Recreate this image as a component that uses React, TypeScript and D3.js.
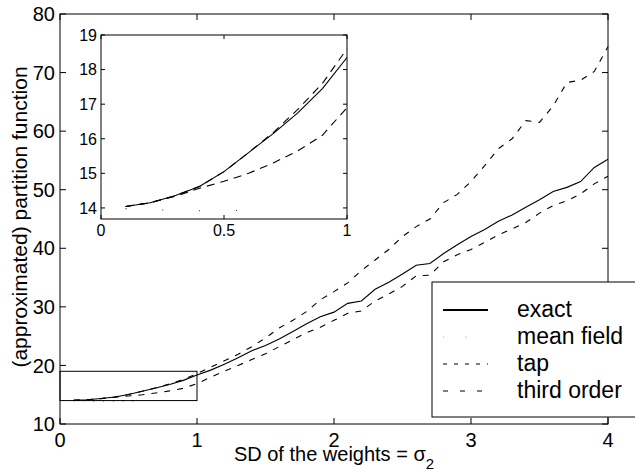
import React from "react";
import * as d3 from "d3";

const sigma = [0.1,0.2,0.3,0.4,0.5,0.6,0.7,0.8,0.9,1.0,1.1,1.2,1.3,1.4,1.5,1.6,1.7,1.8,1.9,2.0,2.1,2.2,2.3,2.4,2.5,2.6,2.7,2.8,2.9,3.0,3.1,3.2,3.3,3.4,3.5,3.6,3.7,3.8,3.9,4.0];
const exact = [14.04,14.15,14.35,14.62,15.05,15.6,16.15,16.75,17.45,18.35,19.2,20.2,21.3,22.5,23.4,24.5,25.8,27.1,28.3,29.1,30.6,31.0,33.0,34.2,35.6,37.1,37.4,39.1,40.6,42.0,43.2,44.6,45.7,47.0,48.3,49.7,50.4,51.4,53.8,55.2];
const tap = [14.04,14.15,14.35,14.62,15.05,15.6,16.18,16.85,17.6,18.6,19.7,20.8,21.9,23.2,24.7,26.4,27.7,29.2,31.2,32.6,34.1,36.2,38.0,39.8,42.0,43.7,45.0,47.8,49.2,51.4,54.1,57.0,58.7,61.8,61.5,64.3,68.3,68.7,70.2,74.4];
const thirdOrder = [14.04,14.15,14.33,14.57,14.77,15.0,15.3,15.65,16.1,16.9,18.0,19.0,20.0,21.0,22.0,23.2,24.4,25.6,26.5,27.7,28.9,29.3,31.0,32.2,33.5,35.3,35.4,37.7,38.9,39.8,41.0,42.3,43.3,44.4,46.0,47.3,48.1,49.3,51.0,52.3];
const meanFieldSigma = [0.1,0.2,0.3,0.4,0.5,0.6];
const meanField = [13.98,13.95,13.93,13.92,13.92,13.93];

const mainXTicks = [0,1,2,3,4];
const mainYTicks = [10,20,30,40,50,60,70,80];
const insetXTicks = [0,0.5,1];
const insetYTicks = [14,15,16,17,18,19];
const zoomBox = { x0: 0, x1: 1, y0: 14, y1: 19 };
const legendItems = ["exact","mean field","tap","third order"];

const FONT = "'Liberation Sans', Arial, Helvetica, sans-serif";

type Pt = [number, number];
const pts = (xs: number[], ys: number[]): Pt[] => xs.map((x, i) => [x, ys[i]] as Pt);

export default function App() {
  const W = 635, H = 472;
  const x = d3.scaleLinear().domain([0, 4]).range([60, 608]);
  const y = d3.scaleLinear().domain([10, 80]).range([424, 14]);
  const ix = d3.scaleLinear().domain([0, 1]).range([101, 347]);
  const iy = d3.scaleLinear().domain([13.68, 19]).range([219, 35]);

  const mainLine = d3.line<Pt>().x(d => x(d[0])).y(d => y(d[1]));
  const insetLine = d3.line<Pt>().x(d => ix(d[0])).y(d => iy(d[1]));

  const series = [
    { data: pts(sigma, exact), dash: "none" },
    { data: pts(meanFieldSigma, meanField), dash: "0.8 9" },
    { data: pts(sigma, tap), dash: "6 7" },
    { data: pts(sigma, thirdOrder), dash: "6 7" },
  ];
  const insetFilter = (d: Pt[]) => d.filter(p => p[0] <= 1.0001);

  const mt = 6, it = 4;
  const legendDash = ["none", "0.6 22", "4 7", "5 12"];
  const legendBase = [317, 344, 371, 398];

  return (
    <svg width={W} height={H} style={{ position: "absolute", left: 0, top: 0, background: "#fff" }} fontFamily={FONT}>
      <rect x={0} y={0} width={W} height={H} fill="#fff" />
      <rect x={60} y={14} width={548} height={410} fill="none" stroke="#000" strokeWidth={1} />
      {mainXTicks.map(t => (
        <g key={"mx" + t}>
          <line x1={x(t)} x2={x(t)} y1={424} y2={424 - mt} stroke="#000" />
          <line x1={x(t)} x2={x(t)} y1={14} y2={14 + mt} stroke="#000" />
          <text x={x(t)} y={447} fontSize={20} textAnchor="middle">{t}</text>
        </g>
      ))}
      {mainYTicks.map(t => (
        <g key={"my" + t}>
          <line x1={60} x2={60 + mt} y1={y(t)} y2={y(t)} stroke="#000" />
          <line x1={608} x2={608 - mt} y1={y(t)} y2={y(t)} stroke="#000" />
          <text x={55} y={y(t)} dy="0.36em" fontSize={20} textAnchor="end">{t}</text>
        </g>
      ))}
      <rect x={x(zoomBox.x0)} y={y(zoomBox.y1)} width={x(zoomBox.x1) - x(zoomBox.x0)} height={y(zoomBox.y0) - y(zoomBox.y1)} fill="none" stroke="#000" strokeWidth={1} />
      {series.map((s, i) => (
        <path key={"ms" + i} d={mainLine(s.data) || ""} fill="none" stroke="#000" strokeWidth={1.1} strokeDasharray={s.dash} />
      ))}
      <text x={334} y={461} fontSize={20} textAnchor="middle">
        SD of the weights = σ<tspan fontSize={15} dy={8}>2</tspan>
      </text>
      <text transform="translate(27,217) rotate(-90)" fontSize={21} textAnchor="middle">(approximated) partition function</text>

      <rect x={101} y={35} width={246} height={184} fill="#fff" stroke="#000" strokeWidth={1} />
      {insetXTicks.map(t => (
        <g key={"ix" + t}>
          <line x1={ix(t)} x2={ix(t)} y1={219} y2={219 - it} stroke="#000" />
          <line x1={ix(t)} x2={ix(t)} y1={35} y2={35 + it} stroke="#000" />
          <text x={ix(t)} y={236} fontSize={16} textAnchor="middle">{t}</text>
        </g>
      ))}
      {insetYTicks.map(t => (
        <g key={"iy" + t}>
          <line x1={101} x2={101 + it} y1={iy(t)} y2={iy(t)} stroke="#000" />
          <line x1={347} x2={347 - it} y1={iy(t)} y2={iy(t)} stroke="#000" />
          <text x={97} y={iy(t)} dy="0.36em" fontSize={16} textAnchor="end">{t}</text>
        </g>
      ))}
      {series.map((s, i) => (
        <path key={"is" + i} d={insetLine(insetFilter(s.data)) || ""} fill="none" stroke="#000" strokeWidth={1.1}
          strokeDasharray={i === 0 ? "none" : i === 1 ? "0.8 36" : "8 6"} />
      ))}

      <rect x={432} y={282} width={220} height={135} fill="#fff" stroke="#000" strokeWidth={1} />
      {legendItems.map((name, i) => (
        <g key={name}>
          <line x1={443} x2={488} y1={legendBase[i] - 7} y2={legendBase[i] - 7} stroke="#000" strokeWidth={i === 0 ? 2 : i === 1 ? 0.6 : 1.1} strokeDasharray={legendDash[i]} />
          <text x={517} y={legendBase[i]} fontSize={23}>{name}</text>
        </g>
      ))}
    </svg>
  );
}
